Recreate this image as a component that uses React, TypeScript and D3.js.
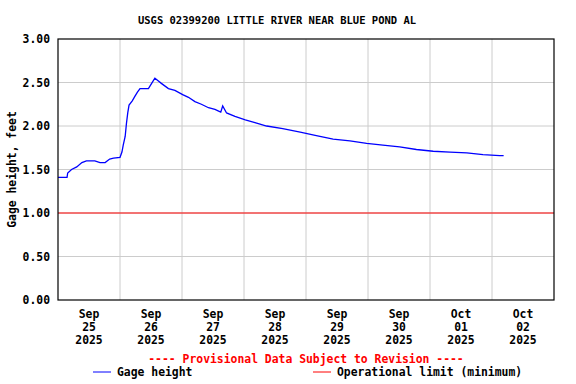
import * as d3 from 'd3';

const title = 'USGS 02399200 LITTLE RIVER NEAR BLUE POND AL';
const yLabel = 'Gage height, feet';
const provisional = '---- Provisional Data Subject to Revision ----';

// gage height readings, feet
const times = [
  '2025-09-25T00:00', '2025-09-25T03:30', '2025-09-25T03:45', '2025-09-25T05:15', '2025-09-25T07:15',
  '2025-09-25T09:15', '2025-09-25T11:00', '2025-09-25T14:15', '2025-09-25T16:15', '2025-09-25T18:15',
  '2025-09-25T20:00', '2025-09-25T21:30', '2025-09-26T00:00', '2025-09-26T00:45', '2025-09-26T01:15',
  '2025-09-26T02:00', '2025-09-26T02:30', '2025-09-26T03:00', '2025-09-26T03:30', '2025-09-26T04:45',
  '2025-09-26T05:45', '2025-09-26T06:45', '2025-09-26T07:45', '2025-09-26T11:00', '2025-09-26T12:15',
  '2025-09-26T13:30', '2025-09-26T14:45', '2025-09-26T16:00', '2025-09-26T18:45', '2025-09-26T21:15',
  '2025-09-27T00:15', '2025-09-27T02:30', '2025-09-27T05:00', '2025-09-27T07:30', '2025-09-27T10:15',
  '2025-09-27T12:45', '2025-09-27T15:00', '2025-09-27T15:45', '2025-09-27T17:15', '2025-09-27T20:30',
  '2025-09-28T00:30', '2025-09-28T04:15', '2025-09-28T08:45', '2025-09-28T15:00', '2025-09-28T21:45',
  '2025-09-29T04:00', '2025-09-29T10:30', '2025-09-29T17:00', '2025-09-29T23:30', '2025-09-30T05:45',
  '2025-09-30T12:15', '2025-09-30T18:45', '2025-10-01T01:15', '2025-10-01T07:45', '2025-10-01T14:15',
  '2025-10-01T20:30', '2025-10-02T03:00', '2025-10-02T04:30',
];
const gageHeight = [
  1.41, 1.41, 1.46, 1.5, 1.53,
  1.58, 1.6, 1.6, 1.58, 1.58,
  1.62, 1.63, 1.64, 1.7, 1.78,
  1.88, 2.03, 2.15, 2.24, 2.29,
  2.34, 2.39, 2.43, 2.43, 2.49,
  2.55, 2.52, 2.49, 2.43, 2.41,
  2.36, 2.33, 2.28, 2.25, 2.21,
  2.19, 2.16, 2.23, 2.15, 2.11,
  2.07, 2.04, 2.0, 1.97, 1.93,
  1.89, 1.85, 1.83, 1.8, 1.78,
  1.76, 1.73, 1.71, 1.7, 1.69,
  1.67, 1.66, 1.66,
];
const operationalLimit = 1.0;

const yTicks = [0, 0.5, 1, 1.5, 2, 2.5, 3];
const dayTicks = ['2025-09-25', '2025-09-26', '2025-09-27', '2025-09-28', '2025-09-29', '2025-09-30', '2025-10-01', '2025-10-02', '2025-10-03'];
const monthLabels = ['Sep', 'Sep', 'Sep', 'Sep', 'Sep', 'Sep', 'Oct', 'Oct'];
const dayLabels = ['25', '26', '27', '28', '29', '30', '01', '02'];
const yearLabels = ['2025', '2025', '2025', '2025', '2025', '2025', '2025', '2025'];

const width = 576;
const height = 384;
const margin = { top: 39, right: 22, bottom: 84, left: 58 };
const font = '"DejaVu Sans Mono", "Liberation Mono", monospace';

const parse = (s: string) => new Date(s);

export default function App() {
  const x = d3
    .scaleTime()
    .domain([parse(dayTicks[0]), parse(dayTicks[dayTicks.length - 1])])
    .range([margin.left, width - margin.right]);
  const y = d3.scaleLinear().domain([0, 3]).range([height - margin.bottom, margin.top]);

  const data = times.map((t, i) => ({ t: parse(t), v: gageHeight[i] }));
  const line = d3
    .line<{ t: Date; v: number }>()
    .x((d) => x(d.t))
    .y((d) => y(d.v));

  const x0 = margin.left;
  const x1 = width - margin.right;
  const yTop = margin.top;
  const yBot = height - margin.bottom;

  return (
    <svg
      width={width}
      height={height}
      style={{ position: 'absolute', top: 0, left: 0, background: '#fff' }}
      fontFamily={font}
      fontWeight="bold"
      fontSize={11.4}
    >
      <rect width={width} height={height} fill="#fff" />
      <text x={277} y={24} textAnchor="middle" fill="#000" fontSize={10.5}>
        {title}
      </text>

      {/* grid */}
      {yTicks.slice(1, -1).map((t) => (
        <line key={'gy' + t} x1={x0} x2={x1} y1={y(t)} y2={y(t)} stroke="#cccccc" />
      ))}
      {dayTicks.slice(1, -1).map((d) => (
        <line key={'gx' + d} x1={x(parse(d))} x2={x(parse(d))} y1={yTop} y2={yBot} stroke="#cccccc" />
      ))}

      {/* operational limit */}
      <line x1={x0} x2={x1} y1={y(operationalLimit)} y2={y(operationalLimit)} stroke="#ff0000" />

      <path d={line(data) ?? ''} fill="none" stroke="#0000ff" strokeWidth={1.3} />

      <rect x={x0} y={yTop} width={x1 - x0} height={yBot - yTop} fill="none" stroke="#000" strokeWidth={1.2} />

      {/* y ticks */}
      {yTicks.map((t) => (
        <text key={'yt' + t} x={50} y={y(t) + 4} textAnchor="end" fill="#000">
          {t.toFixed(2)}
        </text>
      ))}
      <text transform={`translate(16,${(yTop + yBot) / 2}) rotate(-90)`} textAnchor="middle" fill="#000">
        {yLabel}
      </text>

      {/* x ticks, labelled at noon */}
      {dayTicks.slice(0, -1).map((d, i) => {
        const cx = x(d3.timeHour.offset(parse(d), 12));
        return (
          <g key={'xt' + d} textAnchor="middle" fill="#000">
            <text x={cx} y={318}>{monthLabels[i]}</text>
            <text x={cx} y={331}>{dayLabels[i]}</text>
            <text x={cx} y={344}>{yearLabels[i]}</text>
          </g>
        );
      })}

      <text x={306} y={363} textAnchor="middle" fill="#ff0000">
        {provisional}
      </text>

      {/* legend */}
      <line x1={93} x2={111} y1={372} y2={372} stroke="#0000ff" />
      <text x={117} y={376} fill="#000">Gage height</text>
      <line x1={313} x2={331} y1={372} y2={372} stroke="#ff0000" />
      <text x={337} y={376} fill="#000">Operational limit (minimum)</text>
    </svg>
  );
}
